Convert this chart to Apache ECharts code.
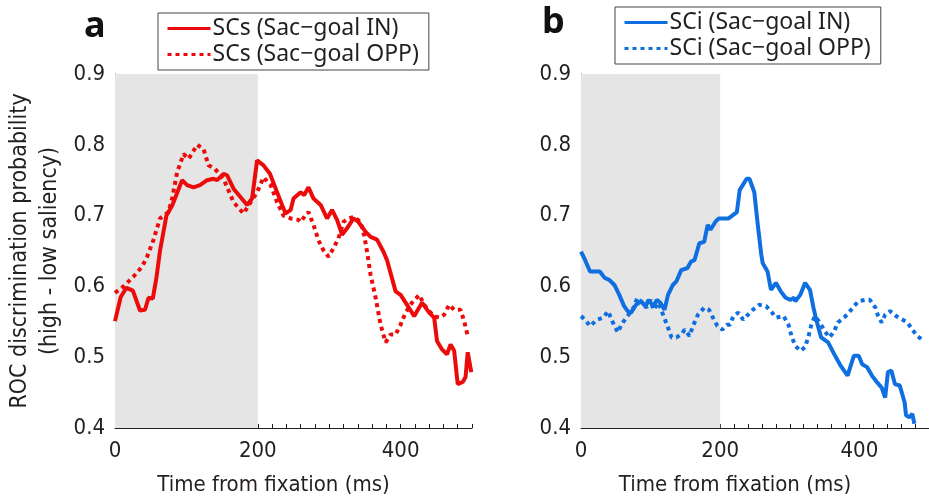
<!DOCTYPE html>
<html>
<head>
<meta charset="utf-8">
<script src="https://cdn.jsdelivr.net/npm/echarts@6/dist/echarts.min.js"></script>
<style>
  html, body { margin: 0; padding: 0; background: #fff; }
  #main { width: 929px; height: 501px; }
</style>
</head>
<body>
<div id="main"></div>
<script>
// time axis (ms) and ROC values
var scsInTime = [0, 8, 16, 25, 35, 42, 47, 53, 58, 63, 72, 80, 94, 101, 110, 119, 129, 138, 143, 152, 157, 166, 185, 192, 199, 208, 217, 227, 234, 239, 246, 250, 260, 265, 271, 278, 288, 297, 304, 311, 318, 325, 334, 341, 351, 358, 367, 376, 381, 393, 400, 409, 419, 423, 430, 440, 447, 451, 458, 465, 470, 475, 480, 487, 491, 494, 499];
var scsInVal = [0.551, 0.585, 0.598, 0.594, 0.566, 0.567, 0.584, 0.583, 0.612, 0.650, 0.700, 0.714, 0.750, 0.743, 0.740, 0.743, 0.750, 0.752, 0.750, 0.759, 0.757, 0.738, 0.715, 0.724, 0.778, 0.771, 0.759, 0.733, 0.715, 0.703, 0.708, 0.724, 0.733, 0.729, 0.740, 0.724, 0.715, 0.696, 0.708, 0.694, 0.673, 0.682, 0.696, 0.691, 0.677, 0.670, 0.666, 0.649, 0.637, 0.593, 0.588, 0.574, 0.558, 0.565, 0.577, 0.563, 0.556, 0.523, 0.511, 0.504, 0.518, 0.509, 0.462, 0.465, 0.472, 0.507, 0.479];

var scsOppTime = [0, 12, 26, 38, 45, 54, 63, 75, 80, 87, 96, 103, 115, 124, 131, 140, 152, 166, 180, 190, 199, 208, 218, 227, 236, 246, 257, 260, 267, 271, 278, 285, 292, 299, 306, 313, 320, 327, 335, 344, 349, 353, 358, 365, 372, 379, 386, 393, 400, 407, 416, 426, 433, 440, 447, 454, 461, 468, 475, 484, 489, 494];
var scsOppVal = [0.591, 0.600, 0.614, 0.628, 0.642, 0.666, 0.696, 0.705, 0.724, 0.761, 0.787, 0.780, 0.800, 0.794, 0.771, 0.766, 0.752, 0.719, 0.703, 0.719, 0.733, 0.754, 0.743, 0.719, 0.700, 0.696, 0.694, 0.691, 0.701, 0.705, 0.687, 0.665, 0.651, 0.642, 0.654, 0.668, 0.691, 0.696, 0.698, 0.691, 0.672, 0.649, 0.616, 0.584, 0.546, 0.521, 0.532, 0.532, 0.546, 0.563, 0.577, 0.588, 0.574, 0.565, 0.558, 0.556, 0.560, 0.574, 0.567, 0.567, 0.551, 0.530];

var sciInTime = [0, 6, 13, 27, 34, 41, 48, 55, 62, 67, 72, 79, 86, 93, 97, 104, 109, 114, 120, 125, 132, 137, 144, 153, 158, 163, 170, 177, 182, 186, 193, 198, 212, 224, 228, 238, 242, 249, 254, 259, 261, 268, 273, 280, 287, 294, 301, 306, 308, 315, 322, 329, 334, 338, 345, 355, 364, 373, 383, 392, 399, 404, 411, 418, 425, 432, 437, 441, 446, 451, 458, 465, 467, 472, 476, 479];
var sciInVal = [0.649, 0.637, 0.621, 0.621, 0.612, 0.609, 0.602, 0.588, 0.572, 0.565, 0.563, 0.574, 0.579, 0.572, 0.581, 0.572, 0.581, 0.577, 0.567, 0.588, 0.602, 0.607, 0.623, 0.626, 0.635, 0.637, 0.661, 0.663, 0.687, 0.680, 0.691, 0.696, 0.696, 0.705, 0.736, 0.752, 0.752, 0.733, 0.687, 0.645, 0.633, 0.621, 0.595, 0.605, 0.593, 0.584, 0.581, 0.584, 0.579, 0.588, 0.605, 0.595, 0.570, 0.553, 0.528, 0.521, 0.504, 0.488, 0.474, 0.502, 0.502, 0.490, 0.486, 0.474, 0.465, 0.457, 0.443, 0.479, 0.481, 0.462, 0.460, 0.436, 0.418, 0.415, 0.420, 0.406];

var sciOppTime = [0, 6, 13, 23, 32, 39, 44, 48, 53, 58, 65, 74, 81, 88, 94, 100, 104, 111, 118, 125, 130, 137, 144, 149, 156, 160, 168, 177, 184, 191, 196, 203, 210, 214, 219, 226, 233, 240, 247, 256, 266, 273, 280, 291, 298, 303, 308, 315, 322, 327, 331, 336, 343, 350, 357, 364, 369, 378, 385, 392, 399, 408, 415, 423, 427, 432, 437, 444, 453, 462, 469, 476, 483, 490];
var sciOppVal = [0.558, 0.553, 0.544, 0.553, 0.556, 0.565, 0.553, 0.544, 0.535, 0.546, 0.556, 0.567, 0.584, 0.577, 0.570, 0.581, 0.567, 0.577, 0.560, 0.542, 0.528, 0.528, 0.532, 0.539, 0.530, 0.542, 0.560, 0.570, 0.567, 0.553, 0.544, 0.539, 0.546, 0.546, 0.558, 0.563, 0.553, 0.560, 0.567, 0.574, 0.572, 0.565, 0.556, 0.558, 0.546, 0.528, 0.516, 0.509, 0.514, 0.530, 0.546, 0.558, 0.549, 0.537, 0.528, 0.537, 0.549, 0.556, 0.563, 0.572, 0.579, 0.581, 0.581, 0.570, 0.558, 0.549, 0.560, 0.565, 0.558, 0.553, 0.549, 0.539, 0.530, 0.525];

var xTicks = [0, 200, 400];
var shadeRange = [0, 200]; // fixation window

var RED = '#ec0a0a';
var BLUE = '#0f6ee0';
var INK = '#231f20';
var narrow = "'Liberation Sans Narrow', 'DejaVu Sans Condensed', sans-serif";

function pairs(t, v) {
    var out = [];
    for (var i = 0; i < t.length; i++) out.push([t[i], v[i]]);
    return out;
}

function xAxisFor(gridIndex) {
    return {
        type: 'value',
        gridIndex: gridIndex,
        min: 0,
        max: 500,
        interval: 100,
        name: 'Time from fixation (ms)',
        nameLocation: 'middle',
        nameGap: 46,
        nameTextStyle: { color: INK, fontSize: 22, fontFamily: narrow, padding: [0, 40, 0, 0] },
        axisLine: { lineStyle: { color: INK, width: 1 } },
        axisTick: { inside: true, length: 4, lineStyle: { color: INK } },
        minorTick: { show: true, splitNumber: 5, length: 4, lineStyle: { color: INK } },
        splitLine: { show: false },
        axisLabel: {
            color: INK, fontSize: 22, fontFamily: narrow, margin: 12, showMaxLabel: false,
            formatter: function (v) { return xTicks.indexOf(v) >= 0 ? String(v) : ''; }
        }
    };
}

function yAxisFor(gridIndex, withName) {
    var ax = {
        type: 'value',
        gridIndex: gridIndex,
        min: 0.4,
        max: 0.9,
        interval: 0.1,
        axisLine: { show: true, lineStyle: { color: INK, width: 1 } },
        axisTick: { show: true, inside: true, length: 4, lineStyle: { color: INK } },
        minorTick: { show: true, splitNumber: 5, length: 4, lineStyle: { color: INK } },
        splitLine: { show: false },
        axisLabel: {
            color: INK, fontSize: 22, fontFamily: narrow, margin: 10,
            formatter: function (v) { return v.toFixed(1); }
        }
    };
    if (withName) {
        ax.name = 'ROC discrimination probability\n(high - low saliency)';
        ax.nameLocation = 'middle';
        ax.nameGap = 50;
        ax.nameTextStyle = { color: INK, fontSize: 23, fontFamily: narrow, lineHeight: 30 };
    }
    return ax;
}

function lineSeries(name, idx, t, v, color, dotted, shade) {
    var s = {
        name: name,
        type: 'line',
        xAxisIndex: idx,
        yAxisIndex: idx,
        data: pairs(t, v),
        symbol: 'none',
        smooth: false,
        z: 3,
        lineStyle: { color: color, width: 4, type: dotted ? [4, 4] : 'solid' },
        itemStyle: { color: color }
    };
    if (shade) {
        s.markArea = {
            silent: true,
            itemStyle: { color: '#e5e5e5' },
            data: [[{ xAxis: shadeRange[0] }, { xAxis: shadeRange[1] }]]
        };
    }
    return s;
}

var legendBase = {
    orient: 'vertical',
    borderColor: '#444',
    borderWidth: 1,
    padding: [3, 10, 3, 8],
    itemGap: 1,
    itemWidth: 43,
    itemHeight: 14,
    // hide the circle marker, keep only the line sample
    itemStyle: { color: 'transparent', borderColor: 'transparent', borderWidth: 0 },
    lineStyle: { width: 3 },
    textStyle: { color: INK, fontSize: 23, lineHeight: 25, fontFamily: "'Noto Sans', sans-serif", padding: [0, 0, 0, -3] }
};

var chart = echarts.init(document.getElementById('main'), null, { renderer: 'canvas' });
chart.setOption({
    animation: false,
    backgroundColor: '#fff',
    title: [
        { text: 'a', left: 79, top: 4, textStyle: { fontSize: 36, fontWeight: 'bold', color: '#111', fontFamily: "'Noto Sans', sans-serif" } },
        { text: 'b', left: 537, top: 0, textStyle: { fontSize: 36, fontWeight: 'bold', color: '#111', fontFamily: "'Noto Sans', sans-serif" } }
    ],
    legend: [
        Object.assign({}, legendBase, { left: 158, top: 13, data: ['SCs (Sac\u2212goal IN)', 'SCs (Sac\u2212goal OPP)'] }),
        Object.assign({}, legendBase, { left: 615, top: 7, data: ['SCi (Sac\u2212goal IN)', 'SCi (Sac\u2212goal OPP)'] })
    ],
    grid: [
        { left: 115, top: 74, width: 357, height: 357 },
        { left: 581, top: 74, width: 357, height: 357 }
    ],
    xAxis: [xAxisFor(0), xAxisFor(1)],
    yAxis: [yAxisFor(0, true), yAxisFor(1, false)],
    series: [
        lineSeries('SCs (Sac\u2212goal IN)', 0, scsInTime, scsInVal, RED, false, true),
        lineSeries('SCs (Sac\u2212goal OPP)', 0, scsOppTime, scsOppVal, RED, true, false),
        lineSeries('SCi (Sac\u2212goal IN)', 1, sciInTime, sciInVal, BLUE, false, true),
        lineSeries('SCi (Sac\u2212goal OPP)', 1, sciOppTime, sciOppVal, BLUE, true, false)
    ]
});
</script>
</body>
</html>
